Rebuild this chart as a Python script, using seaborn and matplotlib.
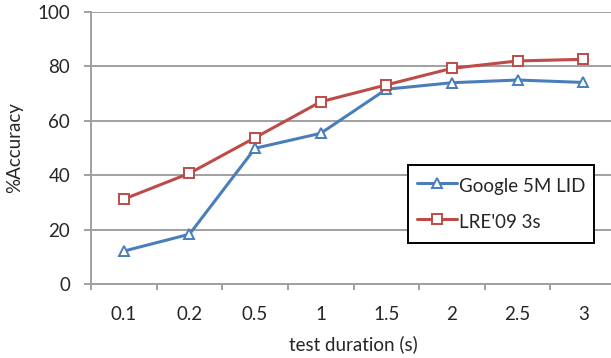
import matplotlib
matplotlib.use("Agg")
import matplotlib.pyplot as plt
import seaborn as sns
import pandas as pd
from matplotlib.ticker import FixedLocator

durations = ["0.1", "0.2", "0.5", "1", "1.5", "2", "2.5", "3"]
google = [12.1, 18.3, 49.9, 55.4, 71.6, 74.0, 75.0, 74.1]
lre = [31.2, 40.7, 53.8, 67.0, 73.2, 79.3, 82.0, 82.6]
series_names = ["Google 5M LID", "LRE'09 3s"]
yticks = [0, 20, 40, 60, 80, 100]

sns.set_theme(style="white")
plt.rcParams['font.family'] = ['Lato', 'DejaVu Sans']

df = pd.DataFrame({
    "duration": durations * 2,
    "accuracy": google + lre,
    "series": [series_names[0]] * len(durations) + [series_names[1]] * len(durations),
})

W, H = 611, 358
fig = plt.figure(figsize=(W / 100, H / 100), dpi=100)
ax = fig.add_axes([91 / W, (H - 284) / H, 525 / W, 272 / H])

palette = {series_names[0]: "#4a7ebb", series_names[1]: "#be4b48"}
markers = {series_names[0]: "^", series_names[1]: "s"}
sns.lineplot(data=df, x="duration", y="accuracy", hue="series", style="series",
             palette=palette, markers=markers, dashes=False, linewidth=2.2,
             markersize=6.5, markerfacecolor="white", markeredgewidth=1.4,
             ax=ax, sort=False)
for line in ax.lines:
    line.set_markeredgecolor(line.get_color())
    line.set_markerfacecolor("white")

ax.set_ylim(0, 100)
ax.set_xlim(-0.5, len(durations) - 0.5)
ax.set_yticks(yticks)
grid_col = "#a0a0a0"
ax.yaxis.grid(True, color=grid_col, linewidth=1.4)
ax.set_axisbelow(True)
for side in ["top", "right"]:
    ax.spines[side].set_visible(False)
for side in ["left", "bottom"]:
    ax.spines[side].set_color(grid_col)
    ax.spines[side].set_linewidth(1.4)

ax.tick_params(axis="y", which="major", direction="out", length=5, width=1.4,
               color=grid_col, left=True, labelsize=13.5, pad=10)
ax.tick_params(axis="x", which="major", length=0, labelsize=13.5, pad=16)
ax.xaxis.set_minor_locator(FixedLocator([i - 0.5 for i in range(len(durations))]))
ax.tick_params(axis="x", which="minor", direction="out", length=4.5, width=1.4,
               color=grid_col, bottom=True)

ax.set_xlabel("test duration (s)", fontsize=13.5, labelpad=9)
ax.set_ylabel("%Accuracy", fontsize=13.5, labelpad=10)

leg = ax.legend(title=None, loc="upper left", bbox_to_anchor=(408 / W, 1 - 165 / H),
                bbox_transform=fig.transFigure,
                fontsize=13.5, frameon=True, fancybox=False, borderpad=0.5,
                labelspacing=0.7, handlelength=2.1, handleheight=1.5,
                handletextpad=0.1, borderaxespad=0)
leg.get_frame().set_edgecolor("black")
leg.get_frame().set_linewidth(1.4)
leg.get_frame().set_facecolor("white")
leg.get_frame().set_alpha(1)
for h in leg.legend_handles:
    h.set_markerfacecolor("white")
    h.set_markeredgecolor(h.get_color())

fig.savefig("out.png", dpi=100)
